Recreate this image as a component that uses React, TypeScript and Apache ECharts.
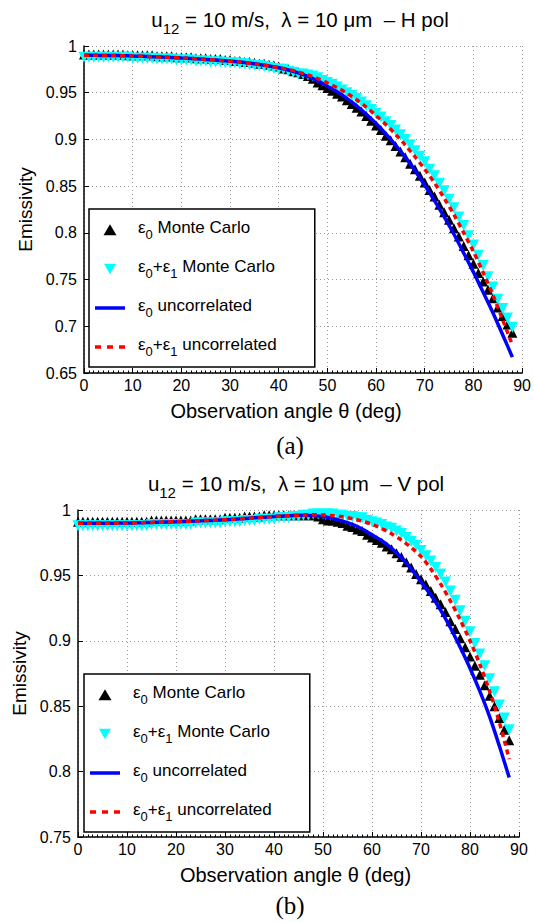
import React, { useEffect, useRef } from 'react';
import * as echarts from 'echarts';

// Observation angles (deg)
const anglesMC = [0,1,2,3,4,5,6,7,8,9,10,11,12,13,14,15,16,17,18,19,20,21,22,23,24,25,26,27,28,29,30,31,32,33,34,35,36,37,38,39,40,41,42,43,44,45,46,47,48,49,50,51,52,53,54,55,56,57,58,59,60,61,62,63,64,65,66,67,68,69,70,71,72,73,74,75,76,77,78,79,80,81,82,83,84,85,86,87,88];
const anglesUnc = [0,2,4,6,8,10,12,14,16,18,20,22,24,26,28,30,32,34,36,38,40,42,44,46,48,50,52,54,56,58,60,62,64,66,68,70,72,74,76,78,80,82,84,86,88];

// (a) H pol
const hE0MC = [.991,.991,.991,.991,.991,.991,.991,.991,.991,.990,.990,.990,.990,.990,.990,.989,.989,.989,.989,.988,.988,.988,.988,.987,.987,.987,.986,.986,.986,.985,.985,.984,.984,.983,.983,.982,.981,.981,.980,.979,.978,.976,.975,.973,.972,.970,.968,.965,.961,.958,.955,.952,.949,.946,.942,.938,.934,.930,.925,.920,.915,.910,.904,.899,.893,.887,.881,.874,.868,.861,.854,.846,.839,.830,.822,.814,.805,.796,.786,.776,.767,.757,.748,.739,.730,.720,.711,.702,.693];
const hE01MC = [.988,.988,.988,.988,.988,.988,.988,.988,.988,.988,.987,.987,.987,.987,.987,.986,.986,.986,.986,.985,.985,.985,.985,.984,.984,.984,.983,.983,.983,.982,.982,.982,.981,.981,.980,.979,.979,.978,.977,.976,.975,.975,.973,.972,.970,.970,.969,.968,.966,.963,.961,.959,.956,.953,.950,.947,.944,.940,.936,.932,.928,.924,.919,.915,.910,.905,.900,.894,.888,.882,.876,.868,.861,.853,.845,.836,.827,.817,.808,.797,.787,.776,.765,.753,.742,.729,.719,.709,.699];
const hE0Unc = [.990,.990,.9899,.9898,.9896,.9893,.989,.9886,.9882,.9877,.9871,.9866,.986,.9853,.9846,.9838,.9828,.9816,.9802,.9787,.9768,.9743,.9713,.9675,.9627,.957,.951,.944,.936,.927,.917,.906,.894,.881,.8665,.851,.8345,.817,.7985,.7785,.758,.7365,.7145,.691,.667];
const hE01Unc = [.990,.990,.9899,.9898,.9896,.9893,.989,.9886,.9882,.9877,.9871,.9866,.986,.9853,.9846,.9838,.9828,.9816,.9802,.9787,.9768,.9748,.9723,.969,.9652,.9605,.9555,.9495,.9425,.9345,.9255,.916,.9055,.894,.8815,.868,.8535,.837,.8195,.80,.78,.7575,.7335,.707,.68];

// (b) V pol
const vE0MC = [.991,.991,.991,.991,.991,.991,.991,.991,.991,.991,.991,.991,.991,.991,.991,.992,.992,.992,.992,.992,.992,.992,.992,.992,.993,.993,.993,.993,.993,.993,.994,.994,.994,.994,.995,.995,.995,.995,.996,.996,.996,.996,.996,.996,.996,.996,.996,.996,.996,.995,.993,.992,.992,.991,.990,.988,.987,.985,.984,.981,.979,.977,.975,.972,.970,.967,.964,.960,.956,.951,.947,.943,.938,.933,.928,.922,.915,.909,.902,.895,.888,.881,.874,.866,.858,.850,.841,.832,.824];
const vE01MC = [.988,.988,.988,.988,.988,.988,.988,.988,.988,.988,.988,.988,.988,.988,.988,.989,.989,.989,.989,.989,.989,.989,.989,.989,.990,.990,.990,.990,.990,.990,.991,.991,.991,.991,.992,.992,.992,.993,.993,.993,.993,.994,.994,.994,.995,.995,.996,.996,.997,.997,.997,.997,.997,.996,.996,.995,.995,.994,.994,.992,.991,.990,.989,.987,.986,.984,.982,.979,.976,.973,.969,.965,.961,.956,.951,.945,.938,.931,.923,.915,.907,.898,.890,.881,.871,.861,.851,.841,.832];
const vE0Unc = [.9898,.9898,.9899,.9899,.99,.9901,.9902,.9904,.9906,.9908,.991,.9913,.9916,.9919,.9922,.9926,.993,.9935,.994,.9945,.995,.9955,.9958,.9959,.9957,.995,.9935,.9915,.989,.9855,.981,.9765,.9707,.9635,.9549,.945,.935,.9235,.91,.895,.879,.8615,.842,.8195,.7955];
const vE01Unc = [.9898,.9898,.9899,.9899,.99,.9901,.9902,.9904,.9906,.9908,.991,.9913,.9916,.9919,.9922,.9926,.993,.9935,.994,.9945,.995,.9955,.9958,.9962,.9964,.9962,.9957,.9948,.9934,.9915,.989,.9858,.9818,.977,.9713,.9645,.955,.9435,.9305,.916,.9,.882,.8615,.8375,.8095];

const xTicks = { min: 0, max: 90, interval: 10 };
const yTicksA = { min: 0.65, max: 1, interval: 0.05 };
const yTicksB = { min: 0.75, max: 1, interval: 0.05 };

const NAME_E0MC = 'ε0 Monte Carlo';
const NAME_E01MC = 'ε0+ε1 Monte Carlo';
const NAME_E0U = 'ε0 uncorrelated';
const NAME_E01U = 'ε0+ε1 uncorrelated';

const FONT = 'Liberation Sans, Arial, Helvetica, sans-serif';
const SERIF = 'Liberation Serif, Times New Roman, serif';

const pair = (xs: number[], ys: number[]) => xs.map((x, i) => [x, ys[i]]);

const legendRich = {
  f: { fontSize: 17, fontFamily: FONT, color: '#000', padding: [0, 0, 5, 8], verticalAlign: 'bottom' },
  g: { fontSize: 17, fontFamily: FONT, color: '#000', padding: [0, 0, 5, 0], verticalAlign: 'bottom' },
  s: { fontSize: 13, fontFamily: FONT, color: '#000', verticalAlign: 'bottom' },
};
const legendFmt = (n: string) => {
  if (n === NAME_E0MC) return '{f|ε}{s|0}{g| Monte Carlo}';
  if (n === NAME_E01MC) return '{f|ε}{s|0}{g|+ε}{s|1}{g| Monte Carlo}';
  if (n === NAME_E0U) return '{f|ε}{s|0}{g| uncorrelated}';
  return '{f|ε}{s|0}{g|+ε}{s|1}{g| uncorrelated}';
};

const titleRich = {
  m: { fontSize: 20.5, fontWeight: 'normal', fontFamily: FONT, color: '#000', padding: [0, 0, 6, 0], verticalAlign: 'bottom' },
  s: { fontSize: 15, fontWeight: 'normal', fontFamily: FONT, color: '#000', verticalAlign: 'bottom' },
};

const yFmt = (v: number) => String(parseFloat(v.toFixed(2)));

const GRID_LINE = { show: true, lineStyle: { color: '#999', type: [1, 3], width: 1 } };

function xAxisCfg(gridIndex: number, namePadRight: number) {
  return {
    type: 'value', gridIndex, ...xTicks,
    name: 'Observation angle θ (deg)', nameLocation: 'middle', nameGap: 28,
    nameTextStyle: { fontSize: 20, fontFamily: FONT, color: '#000', padding: [0, namePadRight, 0, 0] },
    axisLine: { show: true, lineStyle: { color: '#000', width: 1.5 } },
    axisTick: { show: true, inside: true, length: 5, lineStyle: { color: '#000' } },
    minorTick: { show: true, splitNumber: 10, length: 2.5, lineStyle: { color: '#000' } },
    axisLabel: { fontSize: 16, fontFamily: FONT, color: '#000', margin: 4 },
    splitLine: GRID_LINE,
  };
}
function yAxisCfg(gridIndex: number, ticks: any, nameGap: number) {
  return {
    type: 'value', gridIndex, ...ticks,
    name: 'Emissivity', nameLocation: 'middle', nameGap,
    nameTextStyle: { fontSize: 19, fontFamily: FONT, color: '#000' },
    axisLine: { show: true, lineStyle: { color: '#000', width: 1.5 } },
    axisTick: { show: true, inside: true, length: 5, lineStyle: { color: '#000' } },
    axisLabel: { fontSize: 16, fontFamily: FONT, color: '#000', margin: 7, formatter: yFmt },
    splitLine: GRID_LINE,
  };
}

function seriesFor(idx: number, e0mc: number[], e01mc: number[], e0u: number[], e01u: number[]) {
  return [
    {
      type: 'scatter', name: NAME_E0MC, xAxisIndex: idx, yAxisIndex: idx,
      data: pair(anglesMC, e0mc), symbol: 'triangle', symbolSize: 10,
      itemStyle: { color: '#000', opacity: 1 },
    },
    {
      type: 'scatter', name: NAME_E01MC, xAxisIndex: idx, yAxisIndex: idx,
      data: pair(anglesMC, e01mc), symbol: 'triangle', symbolRotate: 180, symbolSize: 11,
      itemStyle: { color: '#00ffff', opacity: 1 },
    },
    {
      type: 'line', name: NAME_E0U, xAxisIndex: idx, yAxisIndex: idx,
      data: pair(anglesUnc, e0u), symbol: 'none', smooth: 0.3,
      lineStyle: { color: '#0000ff', width: 3.5 }, itemStyle: { color: '#0000ff' },
    },
    {
      type: 'line', name: NAME_E01U, xAxisIndex: idx, yAxisIndex: idx,
      data: pair(anglesUnc, e01u), symbol: 'none', smooth: 0.3,
      lineStyle: { color: '#ff0000', width: 3.5, type: [5, 4] }, itemStyle: { color: '#ff0000' },
    },
  ];
}

// legend icons: bounding box 30 x 12.5 kept so the triangles stay small and centred
const ICON_UP = 'path://M0,0M30,12.5M8.5,11.5L15,0.5L21.5,11.5Z';
const ICON_DOWN = 'path://M0,0M30,12.5M9,1L21,1L15,11.5Z';
const ICON_SOLID = 'path://M0,0H30V3.5H0Z';
const ICON_DASHED = 'path://M0,0H6V3.5H0Z M12,0H18V3.5H12Z M24,0H30V3.5H24Z';

function legendCfg(left: number, top: number) {
  return {
    orient: 'vertical', left, top,
    symbolRotate: 0,
    data: [
      { name: NAME_E0MC, icon: ICON_UP, symbolRotate: 0 },
      { name: NAME_E01MC, icon: ICON_DOWN, symbolRotate: 0 },
      { name: NAME_E0U, icon: ICON_SOLID },
      { name: NAME_E01U, icon: ICON_DASHED },
    ],
    itemWidth: 30, itemHeight: 12.5, itemGap: 17,
    padding: [10, 38, 9, 6],
    borderColor: '#000', borderWidth: 1.5, backgroundColor: '#fff',
    selectedMode: false,
    formatter: legendFmt,
    textStyle: { fontFamily: FONT, fontSize: 17, color: '#000', rich: legendRich },
  };
}

export default function App() {
  const ref = useRef<HTMLDivElement>(null);
  useEffect(() => {
    if (!ref.current) return;
    const chart = echarts.init(ref.current, undefined, { renderer: 'svg' });
    chart.setOption({
      animation: false,
      backgroundColor: '#fff',
      title: [
        { text: '{m|u}{s|12}{m| = 10 m/s,  λ = 10 μm  – H pol}', left: 300, top: 9, textAlign: 'center', padding: 0, textStyle: { fontWeight: 'normal', rich: titleRich } },
        { text: '{m|u}{s|12}{m| = 10 m/s,  λ = 10 μm  – V pol}', left: 296, top: 473, textAlign: 'center', padding: 0, textStyle: { fontWeight: 'normal', rich: titleRich } },
        { text: '(a)', left: 290, top: 433, textAlign: 'center', padding: 0, textStyle: { fontFamily: SERIF, fontSize: 25, fontWeight: 'normal', color: '#000' } },
        { text: '(b)', left: 290, top: 893, textAlign: 'center', padding: 0, textStyle: { fontFamily: SERIF, fontSize: 25, fontWeight: 'normal', color: '#000' } },
      ],
      grid: [
        { left: 84, top: 46, width: 440, height: 327 },
        { left: 78, top: 510, width: 441, height: 327 },
      ],
      xAxis: [xAxisCfg(0, 34), xAxisCfg(1, 6)],
      yAxis: [yAxisCfg(0, yTicksA, 47), yAxisCfg(1, yTicksB, 47)],
      legend: [legendCfg(89, 209), legendCfg(84, 674)],
      series: [
        ...seriesFor(0, hE0MC, hE01MC, hE0Unc, hE01Unc),
        ...seriesFor(1, vE0MC, vE01MC, vE0Unc, vE01Unc),
      ],
    });
    return () => chart.dispose();
  }, []);
  return <div ref={ref} style={{ position: 'fixed', left: 0, top: 0, width: 534, height: 923, background: '#fff' }} />;
}
